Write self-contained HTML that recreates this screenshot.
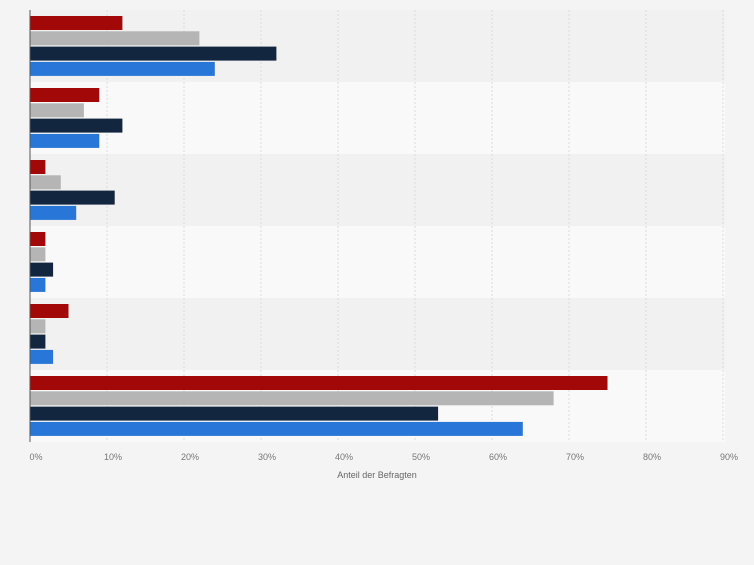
<!DOCTYPE html>
<html><head><meta charset="utf-8"><style>
body{margin:0;background:#f4f4f4;font-family:"Liberation Sans",sans-serif;}
svg text{font-family:"Liberation Sans",sans-serif;}
</style></head><body>
<svg width="754" height="560" xmlns="http://www.w3.org/2000/svg">
<rect width="754" height="560" fill="#f4f4f4"/>
<g id="bands"></g><g id="grid"></g><g id="bars"></g><g id="axis"></g>
</svg>
<script>
const categories=["Gruppe 1","Gruppe 2","Gruppe 3","Gruppe 4","Gruppe 5","Gruppe 6"];
const seriesRed=[12,9,2,2,5,75];
const seriesGray=[22,7,4,2,2,68];
const seriesNavy=[32,12,11,3,2,53];
const seriesBlue=[24,9,6,2,3,64];
const tickValues=[0,10,20,30,40,50,60,70,80,90];
const tickLabels=["0%","10%","20%","30%","40%","50%","60%","70%","80%","90%"];
const NS="http://www.w3.org/2000/svg";
const x0=30,pxPer=7.7,top0=10,band=72;
const xs=v=>x0+v*pxPer;
const ys=i=>top0+i*band;
function mk(t,a,p){const e=document.createElementNS(NS,t);for(const k in a)e.setAttribute(k,a[k]);p.appendChild(e);return e;}
const gB=document.getElementById('bands'),gG=document.getElementById('grid'),gR=document.getElementById('bars'),gA=document.getElementById('axis');
categories.forEach((c,i)=>{
 const r=mk('rect',{x:x0,y:ys(i),width:xs(90)-x0+2,height:band,fill:i%2?'#f9f9f9':'#f1f1f1'},gB);
 
 
});
tickValues.forEach((v,i)=>{
 if(v>0){const l=mk('line',{x1:xs(v),x2:xs(v),y1:top0,y2:ys(categories.length),stroke:'#dcdcdc','stroke-dasharray':'2,2'},gG);
 
 }
 const t=mk('text',{x:xs(v)+6,y:460,'font-size':9,fill:'#777','text-anchor':'middle'},gA);
 t.textContent=tickLabels[i];
 
 
});
const series=[[seriesRed,'#a30808'],[seriesGray,'#b5b5b5'],[seriesNavy,'#12263f'],[seriesBlue,'#2876d8']];
categories.forEach((c,i)=>{
 series.forEach((s,j)=>{
  const b=mk('rect',{x:x0,y:ys(i)+6+j*15.3,width:xs(s[0][i])-x0,height:14,fill:s[1]},gR);
  
  
 });
});
const ax=mk('line',{x1:x0,x2:x0,y1:top0,y2:ys(categories.length),stroke:'#555','stroke-width':1},gA);


const ti=mk('text',{x:377,y:478,'font-size':9,fill:'#666','text-anchor':'middle'},gA);
ti.textContent='Anteil der Befragten';


</script>
</body></html>
